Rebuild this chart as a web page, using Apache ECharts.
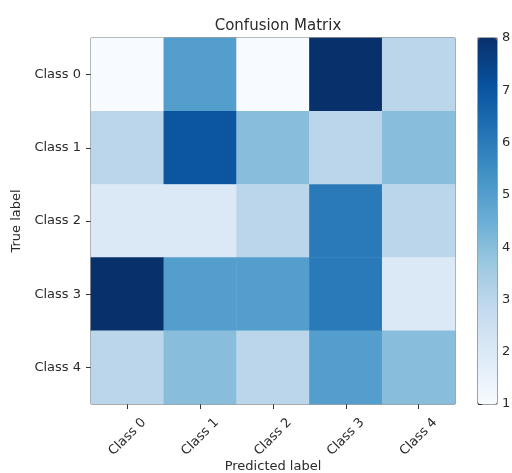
<!DOCTYPE html>
<html>
<head>
<meta charset="utf-8">
<script src="https://cdn.jsdelivr.net/npm/echarts@6/dist/echarts.min.js"></script>
<style>
  html, body { margin: 0; padding: 0; background: #fff; }
  #main { width: 512px; height: 473px; }
</style>
</head>
<body>
<div id="main"></div>
<script>
var predicted = ['Class 0', 'Class 1', 'Class 2', 'Class 3', 'Class 4'];
var actual = ['Class 0', 'Class 1', 'Class 2', 'Class 3', 'Class 4'];
// rows = true label, cols = predicted label
var row0 = [1, 5, 1, 8, 3];
var row1 = [3, 7, 4, 3, 4];
var row2 = [2, 2, 3, 6, 3];
var row3 = [8, 5, 5, 6, 2];
var row4 = [3, 4, 3, 5, 4];
var colorbarTicks = [1, 2, 3, 4, 5, 6, 7, 8];

var rows = [row0, row1, row2, row3, row4];
var cells = [];
rows.forEach(function (r, i) {
  r.forEach(function (v, j) {
    cells.push([j, i, v]);
  });
});

var blues = ['#f7fbff', '#deebf7', '#c6dbef', '#9ecae1', '#6baed6', '#4292c6', '#2171b5', '#08519c', '#08306b'];
var font = 'DejaVu Sans';
var txt = '#2a2a2a';

var myChart = echarts.init(document.getElementById('main'));
var option = {
  animation: false,
  backgroundColor: '#fff',
  title: {
    text: 'Confusion Matrix',
    left: 273,
    textAlign: 'center',
    top: 14,
    textStyle: { fontFamily: font, fontSize: 15, fontWeight: 'normal', color: txt }
  },
  grid: [{
    left: 91, top: 38, width: 364, height: 366, outerBoundsMode: 'none',
    show: true, borderColor: '#444', borderWidth: 1, backgroundColor: 'transparent'
  }, {
    left: 478, top: 38, width: 19, height: 366, outerBoundsMode: 'none',
    show: true, borderColor: '#444', borderWidth: 1, backgroundColor: 'transparent'
  }],
  xAxis: [{
    type: 'category',
    gridIndex: 0,
    data: predicted,
    name: 'Predicted label',
    nameLocation: 'middle',
    nameMoveOverlap: false,
    nameGap: 56,
    nameTextStyle: { fontFamily: font, fontSize: 13, color: txt },
    axisLine: { show: false },
    axisTick: { show: true, alignWithLabel: true, length: 5, lineStyle: { color: '#333' } },
    axisLabel: {
      rotate: 45, align: 'center', verticalAlign: 'middle', margin: 33,
      fontFamily: font, fontSize: 13, color: txt
    },
    splitLine: { show: false }
  }, {
    type: 'value',
    gridIndex: 1,
    show: false
  }],
  yAxis: [{
    type: 'category',
    gridIndex: 0,
    data: actual,
    inverse: true,
    name: 'True label',
    nameLocation: 'middle',
    nameGap: 64,
    nameTextStyle: { fontFamily: font, fontSize: 13, color: txt },
    axisLine: { show: false },
    axisTick: { show: true, alignWithLabel: true, length: 5, lineStyle: { color: '#333' } },
    axisLabel: { fontFamily: font, fontSize: 13, color: txt, margin: 10 },
    splitLine: { show: false }
  }, {
    type: 'value',
    gridIndex: 1,
    position: 'right',
    min: colorbarTicks[0],
    max: colorbarTicks[colorbarTicks.length - 1],
    interval: 1,
    axisLine: { show: false },
    axisTick: { show: true, length: 4, lineStyle: { color: '#333' } },
    axisLabel: { fontFamily: font, fontSize: 13, color: txt, margin: 5 },
    splitLine: { show: false }
  }],
  visualMap: {
    type: 'continuous',
    min: 1,
    max: 8,
    seriesIndex: 0,
    calculable: false,
    orient: 'vertical',
    left: 478,
    top: 38,
    padding: 0,
    itemWidth: 19,
    itemHeight: 366,
    text: null,
    showLabel: false,
    inRange: { color: blues }
  },
  series: [{
    type: 'heatmap',
    xAxisIndex: 0,
    yAxisIndex: 0,
    data: cells,
    label: { show: false },
    itemStyle: { borderWidth: 0 }
  }]
};
myChart.setOption(option);
</script>
</body>
</html>
